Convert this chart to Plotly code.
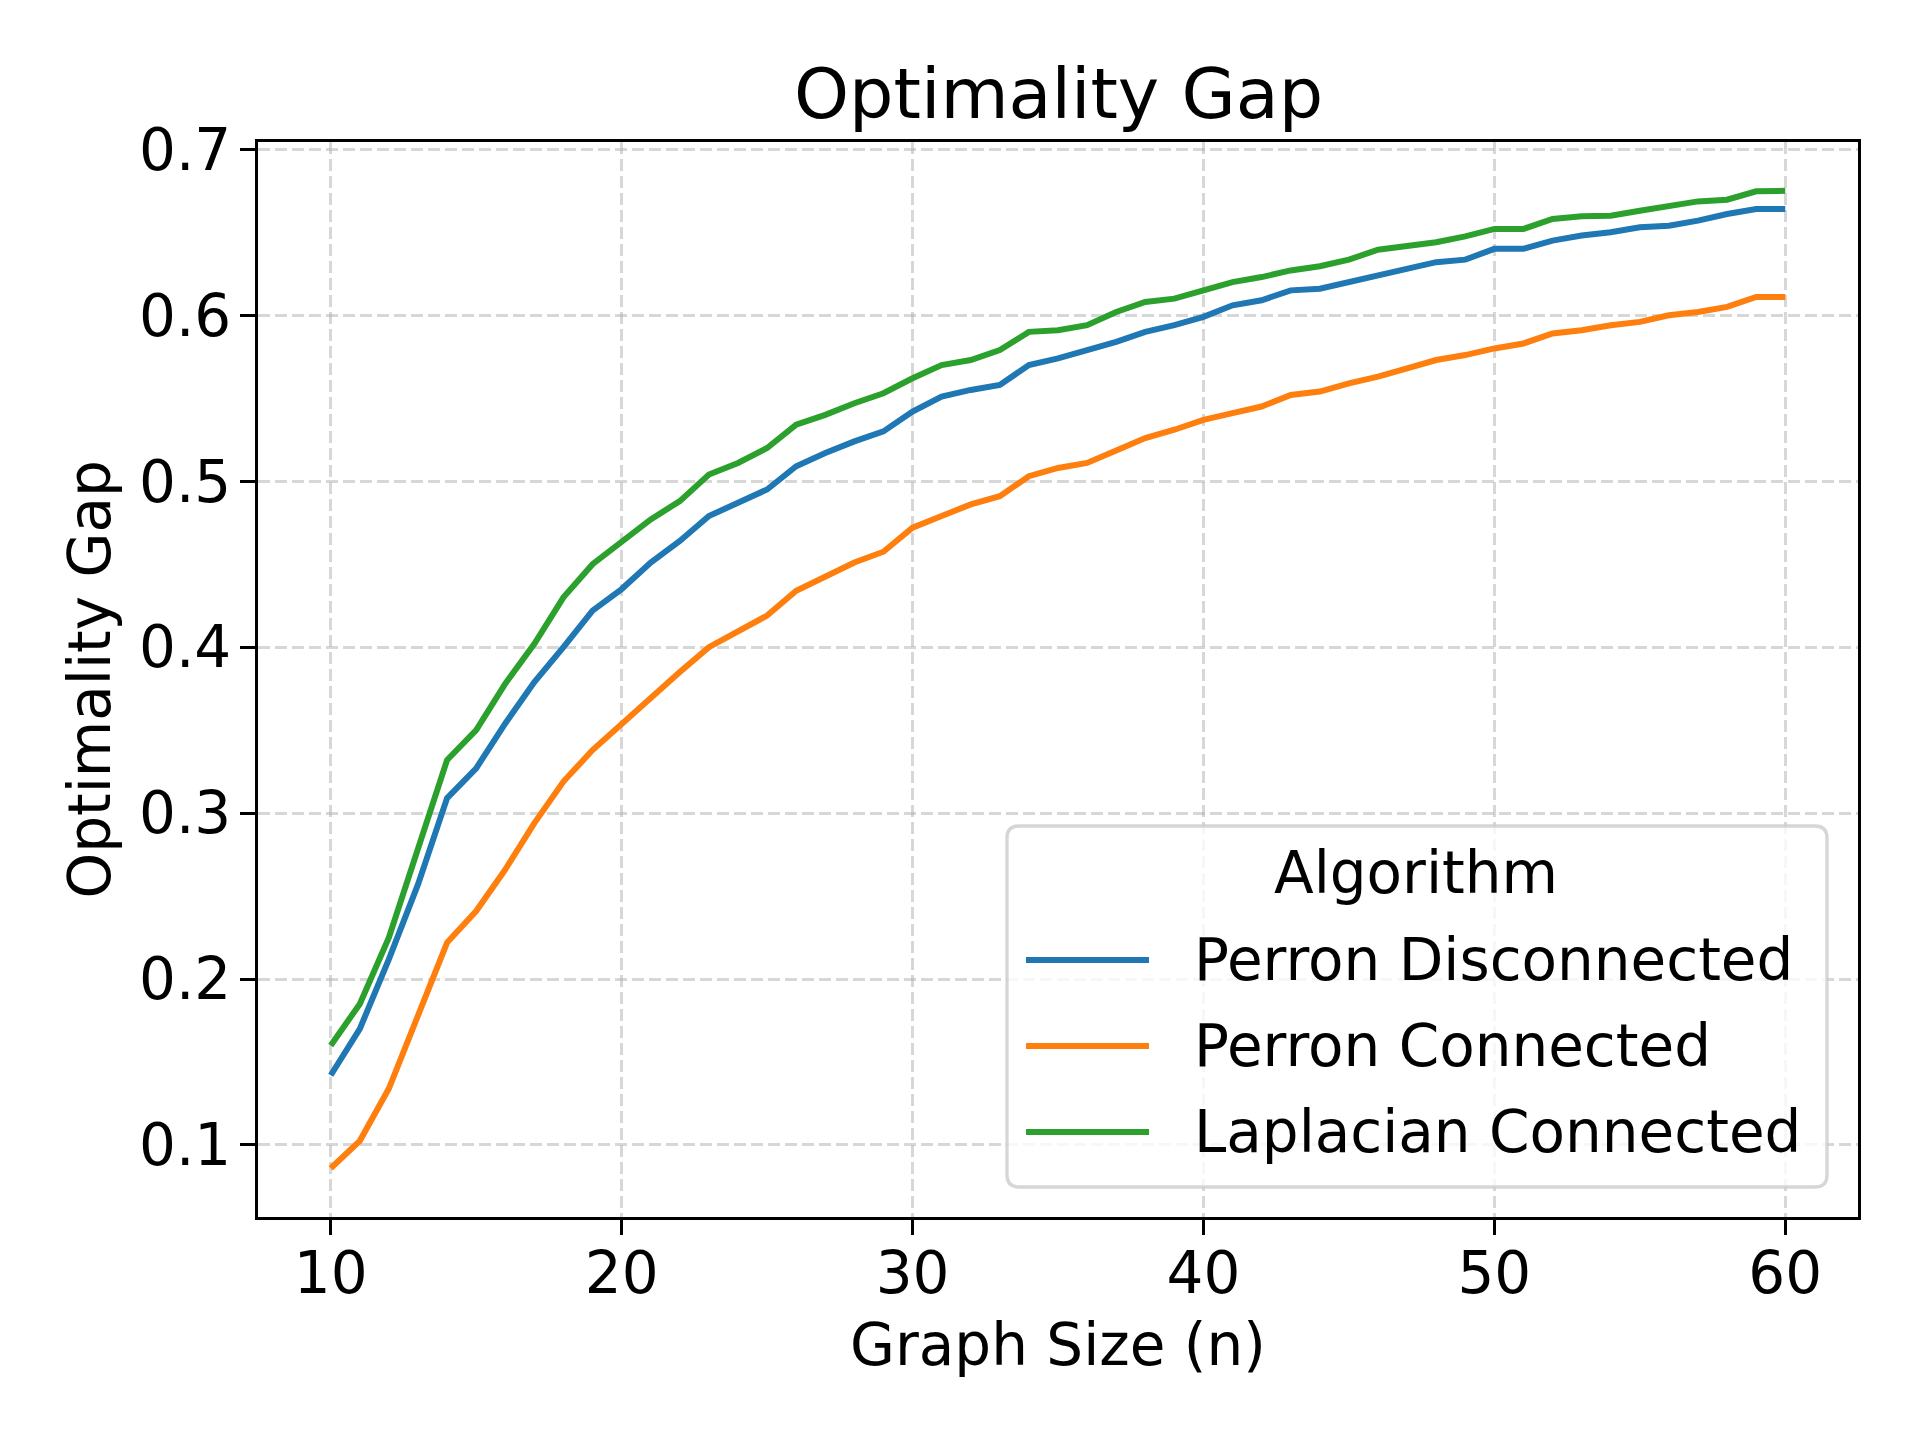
import plotly.graph_objects as go

# ---------------- data ----------------
graph_size = [10, 11, 12, 13, 14, 15, 16, 17, 18, 19, 20, 21, 22, 23, 24, 25, 26, 27, 28, 29,
              30, 31, 32, 33, 34, 35, 36, 37, 38, 39, 40, 41, 42, 43, 44, 45, 46, 47, 48, 49,
              50, 51, 52, 53, 54, 55, 56, 57, 58, 59, 60]

perron_disconnected = [0.142, 0.170, 0.212, 0.257, 0.309, 0.327, 0.354, 0.379, 0.400, 0.422,
                       0.435, 0.451, 0.464, 0.479, 0.487, 0.495, 0.509, 0.517, 0.524, 0.530,
                       0.542, 0.551, 0.555, 0.558, 0.570, 0.574, 0.579, 0.584, 0.590, 0.594,
                       0.599, 0.606, 0.609, 0.615, 0.616, 0.620, 0.624, 0.628, 0.632, 0.6335,
                       0.640, 0.640, 0.645, 0.648, 0.650, 0.653, 0.654, 0.657, 0.661, 0.664, 0.664]

perron_connected = [0.086, 0.1025, 0.134, 0.1775, 0.222, 0.241, 0.266, 0.294, 0.319, 0.338,
                    0.354, 0.370, 0.385, 0.400, 0.409, 0.419, 0.434, 0.443, 0.451, 0.4575,
                    0.472, 0.479, 0.486, 0.491, 0.503, 0.508, 0.511, 0.5185, 0.526, 0.531,
                    0.537, 0.541, 0.545, 0.552, 0.554, 0.559, 0.563, 0.568, 0.573, 0.576,
                    0.580, 0.583, 0.589, 0.591, 0.594, 0.596, 0.600, 0.602, 0.605, 0.611, 0.611]

laplacian_connected = [0.160, 0.185, 0.225, 0.279, 0.332, 0.350, 0.378, 0.402, 0.430, 0.450,
                       0.464, 0.477, 0.488, 0.504, 0.511, 0.520, 0.534, 0.540, 0.547, 0.553,
                       0.562, 0.570, 0.573, 0.579, 0.590, 0.591, 0.594, 0.602, 0.608, 0.610,
                       0.615, 0.620, 0.623, 0.627, 0.6295, 0.6335, 0.6395, 0.642, 0.644, 0.6475,
                       0.652, 0.652, 0.658, 0.6596, 0.660, 0.663, 0.6656, 0.6686, 0.6696, 0.6747, 0.675]

series_names = ["Perron Disconnected", "Perron Connected", "Laplacian Connected"]
series_values = [perron_disconnected, perron_connected, laplacian_connected]
series_colors = ["#1f77b4", "#ff7f0e", "#2ca02c"]

x_ticks = [10, 20, 30, 40, 50, 60]
y_ticks = [0.1, 0.2, 0.3, 0.4, 0.5, 0.6, 0.7]
y_tick_labels = ["0.1", "0.2", "0.3", "0.4", "0.5", "0.6", "0.7"]

title_text = "Optimality Gap"
x_title = "Graph Size (n)"
y_title = "Optimality Gap"
legend_title = "Algorithm"

# ---------------- layout geometry (pixels) ----------------
W, H = 1920, 1440
L, R, T, B = 258, 1858, 142, 1217   # plot-area edges
PW, PH = R - L, B - T
FONT = "DejaVu Sans"
FS = 58


def px(xp):
    return (xp - L) / PW


def py(yp):
    return (B - yp) / PH


fig = go.Figure()
for name, vals, col in zip(series_names, series_values, series_colors):
    fig.add_trace(go.Scatter(x=graph_size, y=vals, mode="lines", name=name,
                             line=dict(color=col, width=6), showlegend=False))

grid_col = "rgba(176,176,176,0.5)"
axis_common = dict(
    showline=True, linecolor="black", linewidth=3.3, mirror=True,
    ticks="outside", ticklen=15, tickwidth=3.3, tickcolor="black",
    showgrid=True, gridcolor=grid_col, gridwidth=3.3, griddash="12px,5px",
    zeroline=False, tickfont=dict(family=FONT, size=FS, color="black"),
)

fig.update_xaxes(range=[7.5, 62.5], tickvals=x_ticks, ticklabelstandoff=-12, **axis_common)
fig.update_yaxes(range=[0.0566, 0.7044], tickvals=y_ticks, ticktext=y_tick_labels,
                 ticklabelstandoff=-3, **axis_common)

annotations = [
    dict(text=title_text, x=0.5, y=py(94), xref="paper", yref="paper",
         xanchor="center", yanchor="middle", showarrow=False,
         font=dict(family=FONT, size=70, color="black")),
    dict(text=x_title, x=0.5, y=py(1345), xref="paper", yref="paper",
         xanchor="center", yanchor="middle", showarrow=False,
         font=dict(family=FONT, size=FS, color="black")),
    dict(text=y_title, x=px(89), y=0.5, xref="paper", yref="paper", textangle=-90,
         xanchor="center", yanchor="middle", showarrow=False,
         font=dict(family=FONT, size=FS, color="black")),
    dict(text=legend_title, x=px(1416), y=py(873), xref="paper", yref="paper",
         xanchor="center", yanchor="middle", showarrow=False,
         font=dict(family=FONT, size=FS, color="black")),
]

# legend frame (rounded rectangle)
lx0, lx1, ly0, ly1, r = 1007, 1827, 826, 1187, 12
path = (f"M {px(lx0 + r)},{py(ly0)} L {px(lx1 - r)},{py(ly0)} "
        f"Q {px(lx1)},{py(ly0)} {px(lx1)},{py(ly0 + r)} "
        f"L {px(lx1)},{py(ly1 - r)} Q {px(lx1)},{py(ly1)} {px(lx1 - r)},{py(ly1)} "
        f"L {px(lx0 + r)},{py(ly1)} Q {px(lx0)},{py(ly1)} {px(lx0)},{py(ly1 - r)} "
        f"L {px(lx0)},{py(ly0 + r)} Q {px(lx0)},{py(ly0)} {px(lx0 + r)},{py(ly0)} Z")
shapes = [dict(type="path", path=path, xref="paper", yref="paper", layer="above",
               fillcolor="rgba(255,255,255,0.8)", line=dict(color="rgba(204,204,204,0.8)", width=3.3))]

entry_y = [960, 1046, 1132]
for name, col, ey in zip(series_names, series_colors, entry_y):
    shapes.append(dict(type="line", xref="paper", yref="paper", layer="above",
                       x0=px(1026), x1=px(1149), y0=py(ey), y1=py(ey),
                       line=dict(color=col, width=6)))
    annotations.append(dict(text=name, x=px(1192), y=py(ey), xref="paper", yref="paper",
                            xanchor="left", yanchor="middle", showarrow=False,
                            font=dict(family=FONT, size=FS, color="black")))

fig.update_layout(
    width=W, height=H,
    margin=dict(l=L, r=W - R, t=T, b=H - B, pad=0),
    paper_bgcolor="white", plot_bgcolor="white",
    font=dict(family=FONT, size=FS, color="black"),
    showlegend=False,
    annotations=annotations, shapes=shapes,
)

fig.write_html("out.html")
